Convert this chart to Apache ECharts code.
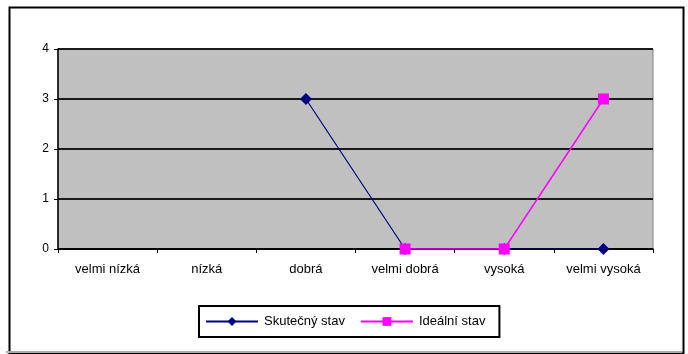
<!DOCTYPE html>
<html>
<head>
<meta charset="utf-8">
<style>html,body{margin:0;padding:0;background:#fff}#c{width:688px;height:354px}</style>
<script src="https://cdn.jsdelivr.net/npm/echarts@6/dist/echarts.min.js"></script>
</head>
<body>
<div id="c"></div>
<script>
const categories = ["velmi nízká", "nízká", "dobrá", "velmi dobrá", "vysoká", "velmi vysoká"];
const skutecny = [null, null, 3, 0, 0, 0];
const idealni = [null, null, null, 0, 0, 3];
const seriesNames = ["Skutečný stav", "Ideální stav"];

const chart = echarts.init(document.getElementById('c'), null, {renderer: 'canvas'});
const font = 'Liberation Sans, Arial, sans-serif';
chart.setOption({
  animation: false,
  backgroundColor: '#fff',
  grid: {left: 58, right: 35, top: 49, bottom: 105, show: true, backgroundColor: '#c0c0c0', borderColor: '#808080', borderWidth: 1},
  xAxis: {
    type: 'category', data: categories, boundaryGap: true,
    axisLine: {lineStyle: {color: '#000', width: 1.5}},
    axisTick: {show: true, length: 4, alignWithLabel: false, lineStyle: {color: '#000'}},
    axisLabel: {color: '#000', fontFamily: font, fontSize: 13, margin: 14, interval: 0}
  },
  yAxis: {
    type: 'value', min: 0, max: 4, interval: 1,
    axisLine: {show: true, lineStyle: {color: '#000', width: 1.5}},
    axisTick: {show: true, length: 4, lineStyle: {color: '#000'}},
    axisLabel: {color: '#000', fontFamily: font, fontSize: 12, margin: 9},
    splitLine: {show: true, lineStyle: {color: '#1a1a1a', width: 2}}
  },
  legend: {
    left: 199, top: 306,
    padding: [9, 14, 9, 6],
    borderColor: '#000', borderWidth: 2, backgroundColor: '#fff',
    itemWidth: 52, itemHeight: 11, itemGap: 15,
    textStyle: {color: '#000', fontFamily: font, fontSize: 13, padding: [0,0,0,1]},
    data: seriesNames
  },
  series: [
    {name: seriesNames[0], type: 'line', data: skutecny, connectNulls: false,
      symbol: 'diamond', symbolSize: 12,
      itemStyle: {color: '#000080'}, lineStyle: {color: '#000080', width: 1.2}, z: 2},
    {name: seriesNames[1], type: 'line', data: idealni, connectNulls: false,
      symbol: 'rect', symbolSize: 11,
      itemStyle: {color: '#ff00ff'}, lineStyle: {color: '#ff00ff', width: 1.5}, z: 3}
  ],
  graphic: [
    {type: 'rect', left: 7, top: 5, shape: {width: 674, height: 346}, style: {fill: 'none', stroke: '#000', lineWidth: 2}, z: 100},
    {type: 'line', shape: {x1: 6, y1: 352, x2: 682, y2: 352}, style: {stroke: '#aaa', lineWidth: 2}, z: 101}
  ]
});
</script>
</body>
</html>
